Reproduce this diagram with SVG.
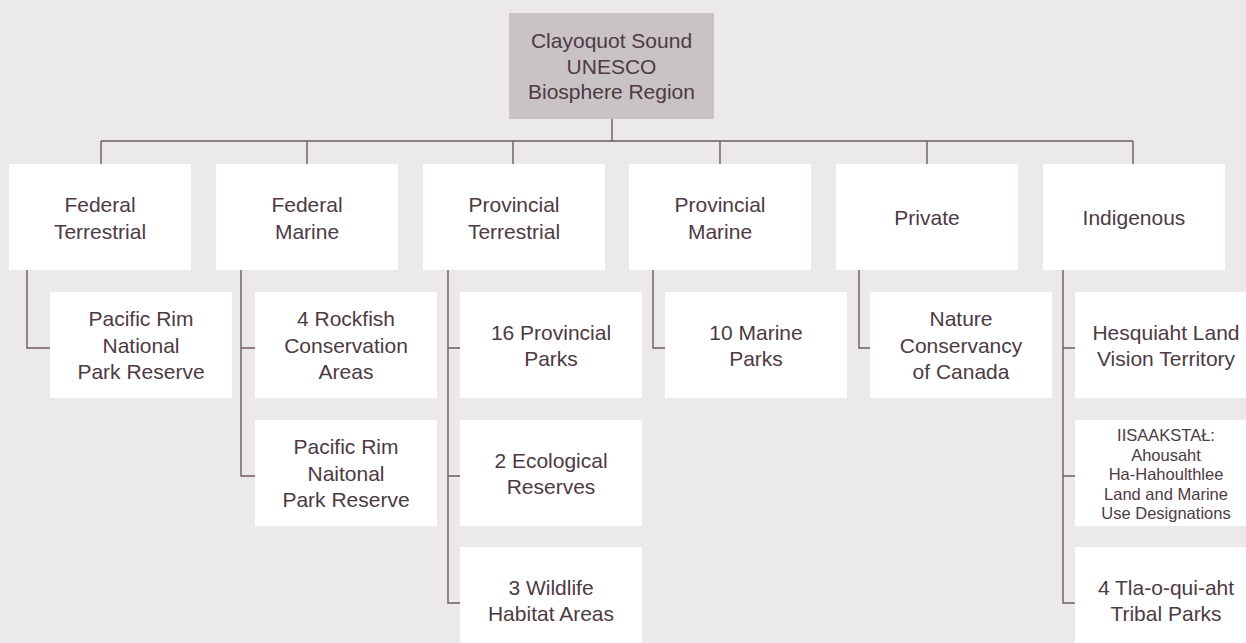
<svg xmlns="http://www.w3.org/2000/svg" width="1246" height="643" viewBox="0 0 1246 643">
<style>
.bg{fill:#ece9ea}
.box{fill:#ffffff}
.root{fill:#cac3c5}
.ln{stroke:#6f5a63;stroke-width:1.4;fill:none}
text{font-family:"Liberation Sans",Arial,sans-serif;font-size:21px;fill:#4d3a44;text-anchor:middle}
.sm{font-size:16.5px}
</style>
<rect class="bg" x="0" y="0" width="1246" height="643"/>
<g id="connectors">
<path class="ln" d="M612 119V141M101 141H1133M101 141V164M307 141V164M513 141V164M720 141V164M927 141V164M1133 141V164"/>
<path class="ln" d="M27 270V348H50"/>
<path class="ln" d="M241 270V476H255M241 348H255"/>
<path class="ln" d="M448 270V603H460M448 348H460M448 476H460"/>
<path class="ln" d="M653 270V348H665"/>
<path class="ln" d="M859 270V348H870"/>
<path class="ln" d="M1063 270V603H1075M1063 348H1075M1063 476H1075"/>
</g>
<g id="root"><rect class="root" x="509" y="13" width="205" height="106"/>
<text x="611.5" y="48">Clayoquot Sound</text><text x="611.5" y="73.5">UNESCO</text><text x="611.5" y="99">Biosphere Region</text></g>
<g id="federal-terrestrial"><rect class="box" x="9" y="164" width="182" height="106"/>
<text x="100" y="212">Federal</text><text x="100" y="238.5">Terrestrial</text></g>
<g id="federal-marine"><rect class="box" x="216" y="164" width="182" height="106"/>
<text x="307" y="212">Federal</text><text x="307" y="238.5">Marine</text></g>
<g id="provincial-terrestrial"><rect class="box" x="423" y="164" width="182" height="106"/>
<text x="514" y="212">Provincial</text><text x="514" y="238.5">Terrestrial</text></g>
<g id="provincial-marine"><rect class="box" x="629" y="164" width="182" height="106"/>
<text x="720" y="212">Provincial</text><text x="720" y="238.5">Marine</text></g>
<g id="private"><rect class="box" x="836" y="164" width="182" height="106"/>
<text x="927" y="225">Private</text></g>
<g id="indigenous"><rect class="box" x="1043" y="164" width="182" height="106"/>
<text x="1134" y="225">Indigenous</text></g>
<g id="pacific-rim-1"><rect class="box" x="50" y="292" width="182" height="106"/>
<text x="141" y="326">Pacific Rim</text><text x="141" y="352.5">National</text><text x="141" y="379">Park Reserve</text></g>
<g id="rockfish"><rect class="box" x="255" y="292" width="182" height="106"/>
<text x="346" y="326">4 Rockfish</text><text x="346" y="352.5">Conservation</text><text x="346" y="379">Areas</text></g>
<g id="pacific-rim-2"><rect class="box" x="255" y="420" width="182" height="106"/>
<text x="346" y="454">Pacific Rim</text><text x="346" y="480.5">Naitonal</text><text x="346" y="507">Park Reserve</text></g>
<g id="provincial-parks"><rect class="box" x="460" y="292" width="182" height="106"/>
<text x="551" y="339.5">16 Provincial</text><text x="551" y="366">Parks</text></g>
<g id="ecological-reserves"><rect class="box" x="460" y="420" width="182" height="106"/>
<text x="551" y="467.5">2 Ecological</text><text x="551" y="494">Reserves</text></g>
<g id="wildlife-habitat"><rect class="box" x="460" y="547" width="182" height="106"/>
<text x="551" y="594.5">3 Wildlife</text><text x="551" y="621">Habitat Areas</text></g>
<g id="marine-parks"><rect class="box" x="665" y="292" width="182" height="106"/>
<text x="756" y="339.5">10 Marine</text><text x="756" y="366">Parks</text></g>
<g id="nature-conservancy"><rect class="box" x="870" y="292" width="182" height="106"/>
<text x="961" y="326">Nature</text><text x="961" y="352.5">Conservancy</text><text x="961" y="379">of Canada</text></g>
<g id="hesquiaht"><rect class="box" x="1075" y="292" width="182" height="106"/>
<text x="1166" y="339.5">Hesquiaht Land</text><text x="1166" y="366">Vision Territory</text></g>
<g id="iisaakstal"><rect class="box" x="1075" y="420" width="182" height="106"/>
<text class="sm" x="1166" y="441">IISAAKSTAŁ:</text><text class="sm" x="1166" y="460.5">Ahousaht</text><text class="sm" x="1166" y="480">Ha-Hahoulthlee</text><text class="sm" x="1166" y="499.5">Land and Marine</text><text class="sm" x="1166" y="519">Use Designations</text></g>
<g id="tla-o-qui-aht"><rect class="box" x="1075" y="547" width="182" height="106"/>
<text x="1166" y="594.5">4 Tla-o-qui-aht</text><text x="1166" y="621">Tribal Parks</text></g>
</svg>
